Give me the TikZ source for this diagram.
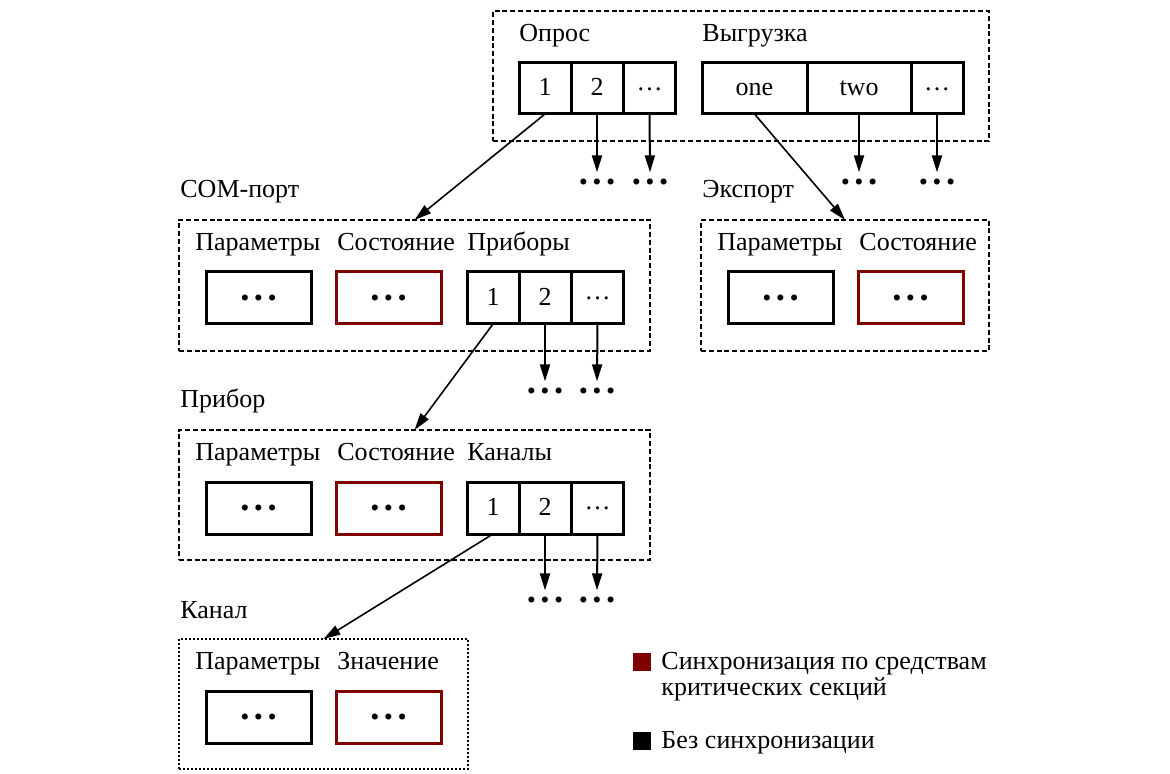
\documentclass[tikz,border=0pt]{standalone}
\usepackage{fontspec}
\setmainfont{Liberation Serif}
\usetikzlibrary{arrows.meta}
\definecolor{syncred}{RGB}{128,0,0}
\newcommand\bigdots{{\fontsize{7}{7}\selectfont$\bullet\mkern2mu\bullet\mkern2mu\bullet$}}
\newcommand\celldots{\raisebox{0.23em}{…}}
\begin{document}
\begin{tikzpicture}[x=0.5pt,y=-0.5pt,
  font=\fontsize{13}{15}\selectfont,
  grp/.style={draw, dash pattern=on 2.5pt off 1.4pt, line width=0.65pt, inner sep=0pt, outer sep=0pt},
  grpdot/.style={draw, dash pattern=on 1pt off 1pt, line width=0.7pt, inner sep=0pt, outer sep=0pt},
  lbl/.style={anchor=base west, inner sep=0pt},
  cell/.style={draw, line width=1.5pt, inner sep=0pt, outer sep=0pt, minimum width=26pt, minimum height=25.5pt, text height=7.5pt, text depth=0pt},
  valbox/.style={draw, line width=1.5pt, inner sep=0pt, outer sep=0pt, minimum width=52.5pt, minimum height=26pt},
  syncbox/.style={valbox, draw=syncred},
  more/.style={inner xsep=0pt, inner ysep=3pt},
  down/.style={line width=1pt, -{Triangle[length=8.5pt,width=5pt]}},
  link/.style={line width=0.8pt, -{Triangle[length=8.5pt,width=5pt]}}
]
\useasboundingbox (0,0) rectangle (1170,774);

% ---------- top group ----------
\node[grp, minimum width=248pt, minimum height=65pt] (top) at (741,76) {};
\node[lbl] (lopros) at (519,42) {Опрос};
\node[lbl] (lvygr) at (702,42) {Выгрузка};
\node[cell] (o1) at (545,88.5) {1};
\node[cell] (o2) at (597,88.5) {2};
\node[cell] (o3) at (649.5,88.5) {\celldots};
\node[cell, minimum width=52.5pt] (v1) at (754.5,88.5) {one};
\node[cell, minimum width=52pt] (v2) at (859,88.5) {two};
\node[cell] (v3) at (937,88.5) {\celldots};
\node[more] (do2) at (597,182) {\bigdots};
\node[more] (do3) at (650,182) {\bigdots};
\node[more] (dv2) at (859,182) {\bigdots};
\node[more] (dv3) at (937,182) {\bigdots};
\draw[down] (o2.south) -- (do2.north);
\draw[down] (o3.south) -- (do3.north);
\draw[down] (v2.south) -- (dv2.north);
\draw[down] (v3.south) -- (dv3.north);

% ---------- COM port ----------
\node[lbl] (lcom) at (180,198) {COM-порт};
\node[grp, minimum width=235.5pt, minimum height=65.5pt] (com) at (414.5,285.5) {};
\node[lbl] (cpar) at (195,251) {Параметры};
\node[lbl] (csost) at (337,251) {Состояние};
\node[lbl] (cpri) at (467,251) {Приборы};
\node[valbox] (cpb) at (258.5,298) {\bigdots};
\node[syncbox] (csb) at (388.5,298) {\bigdots};
\node[cell, minimum height=26pt] (c1) at (493,298) {1};
\node[cell, minimum height=26pt] (c2) at (545,298) {2};
\node[cell, minimum height=26pt] (c3) at (597.5,298) {\celldots};
\node[more] (dc2) at (545,391) {\bigdots};
\node[more] (dc3) at (597,391) {\bigdots};
\draw[down] (c2.south) -- (dc2.north);
\draw[down] (c3.south) -- (dc3.north);

% ---------- Export ----------
\node[lbl] (lexp) at (702,198) {Экспорт};
\node[grp, minimum width=144pt, minimum height=65.5pt] (exp) at (845,285.5) {};
\node[lbl] (epar) at (717,251) {Параметры};
\node[lbl] (esost) at (859,251) {Состояние};
\node[valbox] (epb) at (780.5,298) {\bigdots};
\node[syncbox] (esb) at (910.5,298) {\bigdots};

% ---------- Device ----------
\node[lbl] (ldev) at (180,408) {Прибор};
\node[grp, minimum width=235.5pt, minimum height=65pt] (dev) at (414.5,495) {};
\node[lbl] (dpar) at (195,460) {Параметры};
\node[lbl] (dsost) at (337,460) {Состояние};
\node[lbl] (dkan) at (467,460) {Каналы};
\node[valbox] (dpb) at (258.5,508) {\bigdots};
\node[syncbox] (dsb) at (388.5,508) {\bigdots};
\node[cell, minimum height=26pt] (k1) at (493,508) {1};
\node[cell, minimum height=26pt] (k2) at (545,508) {2};
\node[cell, minimum height=26pt] (k3) at (597.5,508) {\celldots};
\node[more] (dk2) at (545,600) {\bigdots};
\node[more] (dk3) at (597,600) {\bigdots};
\draw[down] (k2.south) -- (dk2.north);
\draw[down] (k3.south) -- (dk3.north);

% ---------- Channel ----------
\node[lbl] (lch) at (180,618) {Канал};
\node[grpdot, minimum width=144.5pt, minimum height=65pt] (ch) at (323.5,704) {};
\node[lbl] (hpar) at (195,669) {Параметры};
\node[lbl] (hval) at (337,669) {Значение};
\node[valbox] (hpb) at (258.5,717) {\bigdots};
\node[syncbox] (hsb) at (388.5,717) {\bigdots};

% ---------- links ----------
\draw[link] (o1.south) -- (com.north);
\draw[link] (v1.south) -- (exp.north);
\draw[link] (c1.south) -- (dev.north);
\draw[link] (k1.south) -- (ch.north);

% ---------- legend ----------
\node[fill=syncred, inner sep=0pt, minimum size=9pt] (lgr) at (642,662) {};
\node[lbl] (lgt1) at (661,669) {Синхронизация по средствам};
\node[lbl] (lgt2) at (661,695) {критических секций};
\node[fill=black, inner sep=0pt, minimum size=9pt] (lgb) at (642,741) {};
\node[lbl] (lgt3) at (661,748) {Без синхронизации};
\end{tikzpicture}
\end{document}
